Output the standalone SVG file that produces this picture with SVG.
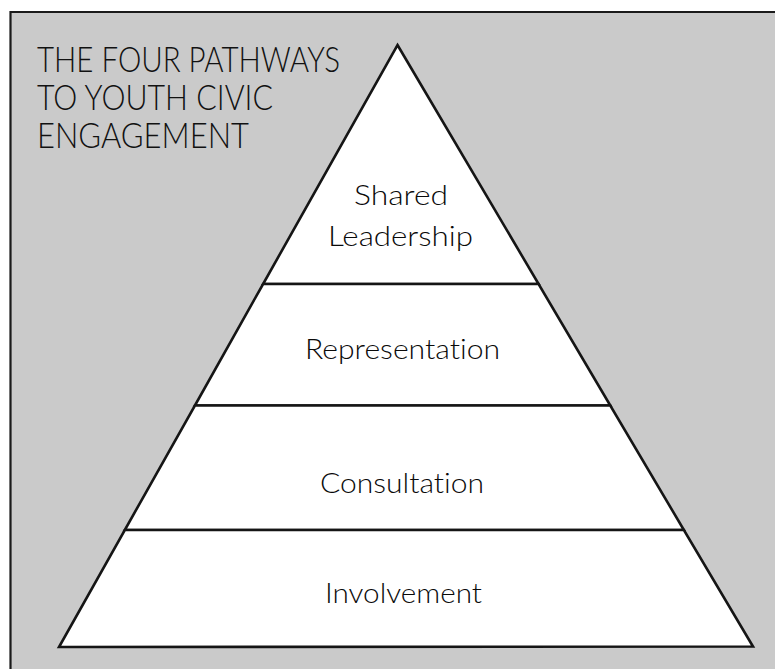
<svg xmlns="http://www.w3.org/2000/svg" width="775" height="669" viewBox="0 0 775 669">
  <style>
    .frame { fill: #cacaca; }
    .frame-edge { fill: none; stroke: #1a1a1a; stroke-width: 2.2; }
    .tier { fill: #ffffff; stroke: #151515; stroke-width: 2.6; stroke-linejoin: miter; }
    text { font-family: Lato, "Liberation Sans", Arial, sans-serif; font-weight: 300; font-variant-ligatures: none; font-feature-settings: "liga" 0, "dlig" 0; }
    .title { font-size: 35px; fill: #111111; }
    .label { font-size: 28px; fill: #0a0a0a; text-anchor: middle; }
  </style>

  <!-- page and grey panel -->
  <rect x="0" y="0" width="775" height="669" fill="#ffffff"/>
  <rect class="frame" x="10.5" y="12" width="764.5" height="657"/>
  <polyline class="frame-edge" points="10.5,669 10.5,12 775,12"/>

  <!-- title -->
  <g id="title">
    <text class="title" x="37" y="72" textLength="303" lengthAdjust="spacingAndGlyphs">THE FOUR PATHWAYS</text>
    <text class="title" x="37" y="110" textLength="236" lengthAdjust="spacingAndGlyphs">TO YOUTH CIVIC</text>
    <text class="title" x="37" y="148" textLength="212" lengthAdjust="spacingAndGlyphs">ENGAGEMENT</text>
  </g>

  <!-- pyramid tiers, top to bottom -->
  <g id="shared-leadership">
    <polygon class="tier" points="397.5,45 538.6,284 263.1,284"/>
    <text class="label" x="401" y="205" textLength="94" lengthAdjust="spacingAndGlyphs">Shared</text>
    <text class="label" x="400.5" y="246" textLength="145" lengthAdjust="spacingAndGlyphs">Leadership</text>
  </g>

  <g id="representation">
    <polygon class="tier" points="263.1,284 538.6,284 610.3,405.5 194.9,405.5"/>
    <text class="label" x="402.5" y="359" textLength="195" lengthAdjust="spacingAndGlyphs">Representation</text>
  </g>

  <g id="consultation">
    <polygon class="tier" points="194.9,405.5 610.3,405.5 683.9,530 124.8,530"/>
    <text class="label" x="402" y="493" textLength="164" lengthAdjust="spacingAndGlyphs">Consultation</text>
  </g>

  <g id="involvement">
    <polygon class="tier" points="124.8,530 683.9,530 753,646.5 59,647"/>
    <text class="label" x="403.5" y="603" textLength="157" lengthAdjust="spacingAndGlyphs">Involvement</text>
  </g>

  <!-- no connectors: the tiers share their edges -->
  <g id="connectors"/>
</svg>
